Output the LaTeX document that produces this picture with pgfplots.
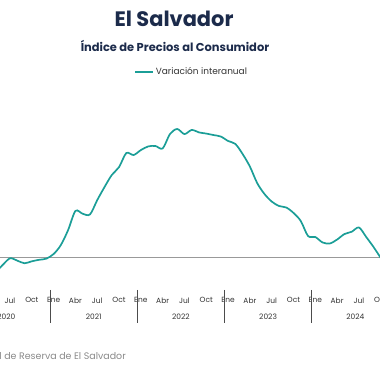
\documentclass[border=0pt]{standalone}
\usepackage{pgfplots}
\pgfplotsset{compat=1.18}
\usepackage{fontspec}
\setmainfont{Poppins}
\definecolor{teal1}{HTML}{1B9E97}
\definecolor{navy1}{HTML}{1C2B4B}
\definecolor{txt1}{HTML}{333333}
\definecolor{foot1}{HTML}{8A8A8A}
\pgfplotstableread{
i v
4 -0.95
5 -0.48
6 -0.08
7 -0.22
8 -0.38
9 -0.26
10 -0.17
11 -0.10
12 0.18
13 0.73
14 1.64
15 2.79
16 2.62
17 2.58
18 3.45
19 4.24
20 4.97
21 5.45
22 6.30
23 6.18
24 6.48
25 6.70
26 6.73
27 6.58
28 7.45
29 7.76
30 7.45
31 7.70
32 7.55
33 7.48
34 7.39
35 7.30
36 7.03
37 6.85
38 6.24
39 5.48
40 4.48
41 3.82
42 3.36
43 3.09
44 3.00
45 2.67
46 2.18
47 1.27
48 1.21
49 0.88
50 0.82
51 1.06
52 1.39
53 1.53
54 1.79
55 1.21
56 0.61
57 -0.06
}\ipc
\begin{document}
\begin{tikzpicture}
\useasboundingbox (0,0) rectangle (380bp,380bp);
\clip (0,0) rectangle (380bp,380bp);
\node[font=\fontsize{21}{24}\selectfont\bfseries, text=navy1] at (174bp,361bp) {El Salvador};
\node[font=\fontsize{11.5}{14}\selectfont\bfseries, text=navy1] at (175bp,334bp) {Índice de Precios al Consumidor};
\begin{axis}[
  at={(-0.9bp,90bp)}, anchor=south west,
  scale only axis, width=385.3bp, height=190bp,
  xmin=4.5, xmax=57.5, ymin=-2, ymax=9.515,
  clip=false,
  axis line style={draw=none},
  tick style={draw=none},
  ytick=\empty,
  xtick={6,9,...,57},
  xticklabels={Jul,Oct,Ene,Abr,Jul,Oct,Ene,Abr,Jul,Oct,Ene,Abr,Jul,Oct,Ene,Abr,Jul,Oct},
  xticklabel style={font=\fontsize{7.5}{9}\selectfont, text=txt1, yshift=-4bp},
  extra x ticks={5.5,17.5,29.5,41.5,53.5},
  extra x tick labels={2020,2021,2022,2023,2024},
  extra x tick style={xticklabel style={yshift=-16bp}},
  legend style={at={(0.350,1.147)}, anchor=west, draw=none, fill=none,
    font=\fontsize{9}{11}\selectfont, text=txt1, inner sep=0pt},
  legend image code/.code={\draw[#1] (0bp,0bp) -- (18bp,0bp);},
]
\draw[gray!80, line width=0.6pt] (axis cs:4.5,0) -- (axis cs:57.5,0);
\pgfplotsinvokeforeach{11.5,23.5,35.5,47.5}{
  \draw[black!70, line width=0.5pt] (axis cs:#1,-2) -- ([yshift=-33bp]axis cs:#1,-2);
}
\addplot[teal1, line width=1.7pt, smooth, tension=0.5] table[x=i, y=v] {\ipc};
\addlegendentry{Variación interanual}
\end{axis}
\node[font=\fontsize{9.5}{11}\selectfont, text=foot1, anchor=base east, inner sep=0pt] at (126bp,21bp) {Fuente: Banco Central de Reserva de El Salvador};
\end{tikzpicture}
\end{document}
